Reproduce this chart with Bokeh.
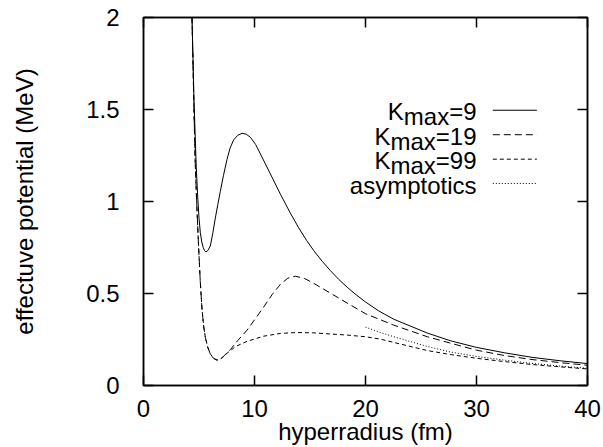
from bokeh.plotting import figure
from bokeh.models import Range1d, FixedTicker, LinearAxis, Label
from bokeh.embed import file_html
from bokeh.resources import INLINE

# ---------------- data ----------------
x_k9 = [4.2, 4.37, 4.55, 4.75, 4.88, 5.0, 5.12, 5.25, 5.38, 5.5, 5.63, 5.8, 6.02, 6.25,
        6.47, 6.7, 6.92, 7.2, 7.52, 7.8, 8.12, 8.5, 8.88, 9.25, 9.63, 10.1, 10.53, 11.43,
        12.33, 13.23, 13.98, 14.7, 15.34, 16.1, 16.84, 17.6, 18.35, 19.2, 20.0, 21.2,
        22.55, 25.57, 27.66, 30.0, 32.5, 35.0, 37.6, 40.0]
y_k9 = [2.3, 2.0, 1.55, 1.19, 1.03, 0.91, 0.83, 0.78, 0.75, 0.733, 0.726, 0.734, 0.758,
        0.83, 0.91, 0.985, 1.055, 1.14, 1.228, 1.29, 1.335, 1.36, 1.371, 1.366, 1.349,
        1.31, 1.259, 1.15, 1.04, 0.937, 0.857, 0.788, 0.733, 0.675, 0.624, 0.576, 0.534,
        0.491, 0.454, 0.405, 0.36, 0.285, 0.243, 0.207, 0.178, 0.153, 0.134, 0.119]

x_k19 = [4.2, 4.37, 4.47, 4.56, 4.65, 4.75, 4.84, 4.96, 5.04, 5.11, 5.27, 5.42, 5.57, 5.8,
         6.02, 6.3, 6.62, 6.9, 7.2, 7.82, 8.5, 9.33, 10.1, 10.83, 11.6, 12.33, 13.0,
         13.68, 14.5, 15.34, 16.84, 18.35, 20.0, 22.55, 25.57, 27.66, 30.0, 32.5, 35.0,
         37.6, 40.0]
y_k19 = [2.3, 2.0, 1.72, 1.46, 1.23, 1.06, 0.925, 0.76, 0.66, 0.57, 0.415, 0.322, 0.262,
         0.205, 0.172, 0.148, 0.138, 0.143, 0.158, 0.195, 0.245, 0.301, 0.365, 0.427,
         0.495, 0.55, 0.583, 0.594, 0.582, 0.555, 0.502, 0.448, 0.39, 0.328, 0.265, 0.230,
         0.192, 0.163, 0.141, 0.124, 0.11]

x_k99 = [4.2, 4.37, 4.47, 4.56, 4.65, 4.75, 4.84, 4.96, 5.04, 5.11, 5.27, 5.42, 5.57, 5.8,
         6.02, 6.3, 6.62, 6.9, 7.2, 7.52, 8.3, 9.33, 10.83, 12.33, 13.84, 15.34, 16.84,
         18.35, 20.0, 21.35, 22.55, 25.57, 27.66, 30.0, 32.5, 35.0, 37.6, 40.0]
y_k99 = [2.3, 2.0, 1.72, 1.46, 1.23, 1.06, 0.925, 0.76, 0.66, 0.57, 0.415, 0.322, 0.262,
         0.205, 0.172, 0.148, 0.138, 0.143, 0.156, 0.175, 0.212, 0.24, 0.268, 0.283, 0.288,
         0.286, 0.28, 0.274, 0.265, 0.252, 0.234, 0.19, 0.168, 0.148, 0.13, 0.114, 0.101,
         0.09]

x_asym = [20.0, 21.35, 22.55, 25.57, 27.66, 30.0, 32.5, 35.0, 37.6, 40.0]
y_asym = [0.317, 0.288, 0.265, 0.212, 0.182, 0.158, 0.138, 0.12, 0.105, 0.094]

kmax_values = ["9", "19", "99"]
asym_label = "asymptotics"

x_ticks = [0, 10, 20, 30, 40]
y_ticks = [0, 0.5, 1, 1.5, 2]
y_tick_labels = ["0", "0.5", "1", "1.5", "2"]
x_title = "hyperradius (fm)"
y_title = "effectuve potential (MeV)"

# ---------------- figure ----------------
FONT = "Liberation Sans"
FS = 24
LW_AX = 1.5
p = figure(width=603, height=447, x_range=Range1d(0, 40), y_range=Range1d(0, 2),
           output_backend="svg", toolbar_location=None,
           min_border_left=143, min_border_right=16, min_border_top=17, min_border_bottom=61)
p.background_fill_color = "white"
p.border_fill_color = "white"
p.outline_line_color = "black"
p.outline_line_width = LW_AX
p.grid.visible = False

for ax in (p.xaxis[0], p.yaxis[0]):
    ax.major_tick_in = 10
    ax.major_tick_out = 0
    ax.minor_tick_line_color = None
    ax.axis_line_color = "black"
    ax.axis_line_width = LW_AX
    ax.major_tick_line_color = "black"
    ax.major_tick_line_width = LW_AX
    ax.major_label_text_font = FONT
    ax.major_label_text_font_size = f"{FS}px"
    ax.major_label_text_color = "black"
    ax.axis_label_text_font = FONT
    ax.axis_label_text_font_size = f"{FS}px"
    ax.axis_label_text_font_style = "normal"
    ax.axis_label_text_color = "black"

p.xaxis.ticker = FixedTicker(ticks=x_ticks)
p.yaxis.ticker = FixedTicker(ticks=y_ticks)
p.yaxis.major_label_overrides = {t: s for t, s in zip(y_ticks, y_tick_labels)}
p.xaxis.axis_label = x_title
p.yaxis.axis_label = y_title
p.xaxis.major_label_standoff = 14
p.xaxis.axis_label_standoff = -2
p.yaxis.major_label_standoff = 24
p.yaxis.axis_label_standoff = 45

# mirrored ticks on top and right (no labels)
for side, ticks in (("above", x_ticks), ("right", y_ticks)):
    ax = LinearAxis(ticker=FixedTicker(ticks=ticks))
    ax.major_tick_in = 10
    ax.major_tick_out = 0
    ax.minor_tick_line_color = None
    ax.major_label_text_font_size = "1px"
    ax.major_label_text_color = None
    ax.major_label_standoff = 0
    ax.axis_line_color = "black"
    ax.axis_line_width = LW_AX
    ax.major_tick_line_color = "black"
    ax.major_tick_line_width = LW_AX
    p.add_layout(ax, side)

# ---------------- curves ----------------
p.line(x_k9, y_k9, line_color="black", line_width=1)
p.line(x_k19, y_k19, line_color="black", line_width=1, line_dash="7 4")
p.line(x_k99, y_k99, line_color="black", line_width=1, line_dash="4 3")
p.line(x_asym, y_asym, line_color="black", line_width=1, line_dash="1 2")

# ---------------- legend (text left of sample lines) ----------------
PX_Y = 184.5        # pixels per data unit (y)
text_right_x = 30.0
sample_x0, sample_x1 = 31.47, 35.44
row_y = [1.496, 1.363, 1.230, 1.098]
dashes = [None, "7 4", "4 3", "1 2"]
base_drop = 1.6 / PX_Y
sub_drop = 5.0 / PX_Y
W = {"=": 0.584, "9": 0.556, "1": 0.556, "K": 0.667, "m": 0.833, "a": 0.556, "x": 0.5}

def width(s):
    return sum(W[c] for c in s) * FS

labels = [("K", "max", "=" + k) for k in kmax_values] + [(None, None, asym_label)]
for (k, sub, tail), yy, dash in zip(labels, row_y, dashes):
    yb = yy - base_drop
    common = dict(text_font=FONT, text_font_size=f"{FS}px", text_color="black",
                  text_align="right", text_baseline="alphabetic")
    p.add_layout(Label(x=text_right_x, y=yb, text=tail, **common))
    if k is not None:
        w_tail = width(tail)
        w_sub = width(sub)
        p.add_layout(Label(x=text_right_x, y=yb - sub_drop, x_offset=-w_tail, text=sub, **common))
        p.add_layout(Label(x=text_right_x, y=yb, x_offset=-(w_tail + w_sub), text=k, **common))
    kw = dict(line_color="black", line_width=1)
    if dash:
        kw["line_dash"] = dash
    p.line([sample_x0, sample_x1], [yy, yy], **kw)

open("out.html", "w").write(file_html(p, INLINE))
